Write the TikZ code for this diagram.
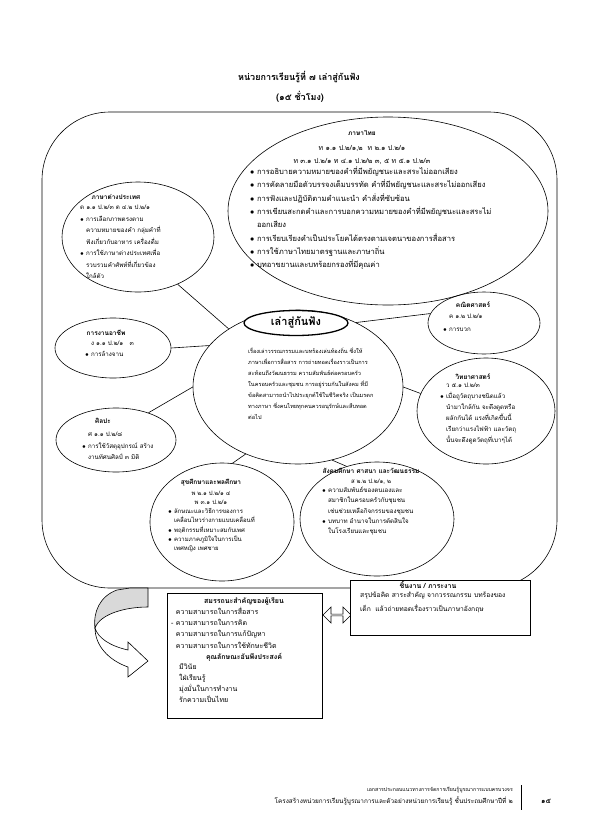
\documentclass[tikz,border=0pt]{standalone}
\usepackage{fontspec}
\setmainfont[Script=Thai]{Loma}
\usetikzlibrary{shapes.geometric,shapes.arrows}
\tikzset{
  ell/.style={draw, ellipse, inner sep=0pt, line width=0.6pt},
  conn/.style={draw, line width=0.6pt},
  hd/.style={font=\fontsize{6.5}{8}\selectfont\bfseries, inner sep=0pt},
  tx/.style={font=\fontsize{6.2}{11.5}\selectfont, inner sep=0pt, align=left, anchor=north west},
  txc/.style={font=\fontsize{6.2}{11}\selectfont, inner sep=0pt, align=center},
  boxst/.style={draw, line width=0.6pt, inner sep=0pt},
}
\newcommand{\bl}{$\bullet$\ }
\newcommand{\ph}{\phantom{$\bullet$\ }}
\begin{document}
\begin{tikzpicture}[x=1pt,y=-1pt]
\useasboundingbox[fill=white] (0,0) rectangle (595,836);
% title
\node[font=\fontsize{9}{11}\selectfont\bfseries] (title) at (299,77) {หน่วยการเรียนรู้ที่ ๗ เล่าสู่กันฟัง};
\node[font=\fontsize{9}{11}\selectfont\bfseries] (hours) at (300,97) {(๑๕ ชั่วโมง)};
% frame
\draw[line width=0.6pt, rounded corners=68pt] (42,112) rectangle (557,588);
% ellipses
\node[ell, minimum width=320, minimum height=188] (thai) at (388,211) {};
\node[ell, minimum width=152, minimum height=110] (foreign) at (138,237) {};
\node[ell, minimum width=116, minimum height=60] (career) at (113,348) {};
\node[ell, minimum width=120, minimum height=64] (art) at (116,440) {};
\node[ell, minimum width=112, minimum height=62] (math) at (484,323) {};
\node[ell, minimum width=138, minimum height=106] (sci) at (486,411) {};
\node[ell, minimum width=144, minimum height=118] (health) at (222,522) {};
\node[ell, minimum width=154, minimum height=114] (social) at (377,519) {};
\node[ell, minimum width=210, minimum height=154] (center) at (298,387) {};
\node[ell, fill=white, line width=1.3pt, minimum width=104, minimum height=25] (hub) at (296,323) {};
\node[font=\fontsize{11}{13}\selectfont\bfseries, inner sep=0pt] (hubtxt) at (296,322) {เล่าสู่กันฟัง};
% connectors
\draw[conn] (foreign.-50) -- (center.140);
\draw[conn] (career.east) -- (center.155);
\draw[conn] (art.40) -- (center.180);
\draw[conn] (center.48) -- (math.170);
\draw[conn] (center.east) -- (sci.165);
\draw[conn] (health.80) -- (center.232);
\draw[conn] (social.120) -- (center.295);
% Thai
\node[hd] (thaih) at (362,133) {ภาษาไทย};
\node[txc, font=\fontsize{7}{13}\selectfont] (thaic) at (362,155) {ท ๑.๑ ป.๒/๑,๒ \ ท ๒.๑ ป.๒/๑\\ท ๓.๑ ป.๒/๑ ท ๔.๑ ป.๒/๒ ๓, ๕ ท ๕.๑ ป.๒/๓};
\node[tx, font=\fontsize{7.6}{13.3}\selectfont] (thaib) at (250,166.5) {\bl การอธิบายความหมายของคำที่มีพยัญชนะและสระไม่ออกเสียง\\
\bl การคัดลายมือตัวบรรจงเต็มบรรทัด คำที่มีพยัญชนะและสระไม่ออกเสียง\\
\bl การฟังและปฏิบัติตามคำแนะนำ คำสั่งที่ซับซ้อน\\
\bl การเขียนสะกดคำและการบอกความหมายของคำที่มีพยัญชนะและสระไม่\\
\ph ออกเสียง\\
\bl การเรียบเรียงคำเป็นประโยคได้ตรงตามเจตนาของการสื่อสาร\\
\bl การใช้ภาษาไทยมาตรฐานและภาษาถิ่น\\
\bl บทอาขยานและบทร้อยกรองที่มีคุณค่า};
% foreign
\node[hd] (forh) at (116,197) {ภาษาต่างประเทศ};
\node[tx] (forb) at (80,205) {ต ๑.๑ ป.๒/๓ ต ๔.๒ ป.๒/๑\\
\bl การเลือกภาพตรงตาม\\
\ph ความหมายของคำ กลุ่มคำที่\\
\ph ฟังเกี่ยวกับอาหาร เครื่องดื่ม\\
\bl การใช้ภาษาต่างประเทศเพื่อ\\
\ph รวบรวมคำศัพท์ที่เกี่ยวข้อง\\
\ph ใกล้ตัว};
% career
\node[hd] (carh) at (106,333) {การงานอาชีพ};
\node[tx, font=\fontsize{6.2}{11}\selectfont] (carb) at (85,341) {\ph ง ๑.๑ ป.๒/๑ \ \ ๓\\ \bl การล้างจาน};
% art
\node[hd] (arth) at (103,421) {ศิลปะ};
\node[tx] (artb) at (82,432) {\ph ศ ๑.๑ ป.๒/๘\\ \bl การใช้วัสดุอุปกรณ์ สร้าง\\ \ph งานทัศนศิลป์ ๓ มิติ};
% math
\node[hd] (mathh) at (473,305) {คณิตศาสตร์};
\node[tx, font=\fontsize{6.2}{13}\selectfont] (mathb) at (443,314) {\ph ค ๑.๒ ป.๒/๑\\ \bl การบวก};
% science
\node[hd] (scih) at (473,377) {วิทยาศาสตร์};
\node[tx, font=\fontsize{6.2}{11}\selectfont] (scib) at (440,383) {\ph ว ๕.๑ ป.๒/๓\\
\bl เมื่อถูวัตถุบางชนิดแล้ว\\
\ph นำมาใกล้กัน จะดึงดูดหรือ\\
\ph ผลักกันได้ แรงที่เกิดขึ้นนี้\\
\ph เรียกว่าแรงไฟฟ้า และวัตถุ\\
\ph นั้นจะดึงดูดวัตถุที่เบาๆได้};
% health
\node[hd] (healh) at (211,483) {สุขศึกษาและพลศึกษา};
\node[txc, font=\fontsize{6}{9.3}\selectfont] (healc) at (211,498) {พ ๒.๑ ป.๒/๑ ๔\\พ ๓.๑ ป.๒/๑};
\node[tx, font=\fontsize{6}{9.4}\selectfont] (healb) at (168,508) {\bl ลักษณะและวิธีการของการ\\
\ph เคลื่อนไหวร่างกายแบบเคลื่อนที่\\
\bl พฤติกรรมที่เหมาะสมกับเพศ\\
\bl ความภาคภูมิใจในการเป็น\\
\ph เพศหญิง เพศชาย};
% social
\node[hd] (soch) at (371,471) {สังคมศึกษา ศาสนา และวัฒนธรรม};
\node[txc, font=\fontsize{6}{10}\selectfont] (socc) at (371,482) {ส ๒.๒ ป.๒/๑, ๒};
\node[tx, font=\fontsize{6.2}{10.3}\selectfont] (socb) at (322,487) {\bl ความสัมพันธ์ของตนเองและ\\
\ph สมาชิกในครอบครัวกับชุมชน\\
\ph เช่นช่วยเหลือกิจกรรมของชุมชน\\
\bl บทบาท อำนาจในการตัดสินใจ\\
\ph ในโรงเรียนและชุมชน};
% center paragraph
\node[tx, font=\fontsize{5.6}{11}\selectfont] (cent) at (248,348) {เรื่องเล่าวรรณกรรมและบทร้องเล่นท้องถิ่น ซึ่งให้\\
ภาษาเพื่อการสื่อสาร การถ่ายทอดเรื่องราวเป็นการ\\
สะท้อนถึงวัฒนธรรม ความสัมพันธ์ต่อครอบครัว\\
ในครอบครัวและชุมชน การอยู่ร่วมกันในสังคม ที่มี\\
ข้อคิดสามารถนำไปประยุกต์ใช้ในชีวิตจริง เป็นมรดก\\
ทางภาษา ซึ่งคนไทยทุกคนควรอนุรักษ์และสืบทอด\\
ต่อไป};
% curved arrow: grey part
\draw[line width=0.6pt, fill=gray!30] (148,588) -- (148,607)
  .. controls (125,607) and (100,614) .. (95,628)
  .. controls (93,612) and (100,596) .. (117,590) -- (130,588) -- cycle;
% curved arrow: white part with head
\draw[line width=0.6pt, fill=white] (95,628)
  .. controls (95,645) and (108,660) .. (128,667)
  -- (128,677) -- (148,661) -- (128,642) -- (128,650)
  .. controls (110,646) and (98,638) .. (95,628) -- cycle;
% competency box
\node[boxst, minimum width=155, minimum height=125, anchor=north west] (comp) at (167,593) {};
\node[hd, font=\fontsize{7}{8}\selectfont\bfseries] (comph) at (244,601) {สมรรถนะสำคัญของผู้เรียน};
\node[tx, font=\fontsize{7}{11.2}\selectfont] (compb) at (171,607) {\ \ ความสามารถในการสื่อสาร\\
- ความสามารถในการคิด\\
\ \ ความสามารถในการแก้ปัญหา\\
\ \ ความสามารถในการใช้ทักษะชีวิต};
\node[hd, font=\fontsize{7}{8}\selectfont\bfseries] (qualh) at (244,657) {คุณลักษณะอันพึงประสงค์};
\node[tx, font=\fontsize{7}{11.2}\selectfont] (qualb) at (179,663) {มีวินัย\\ใฝ่เรียนรู้\\มุ่งมั่นในการทำงาน\\รักความเป็นไทย};
% double arrow
\node[draw, line width=0.6pt, double arrow, fill=white, minimum width=16, minimum height=28, double arrow head extend=2.5pt, inner sep=0pt] (darr) at (337,615) {};
% task box
\node[boxst, fill=white, minimum width=180, minimum height=55, anchor=north west] (task) at (350,580) {};
\node[hd, font=\fontsize{7}{8}\selectfont\bfseries] (taskh) at (428,585) {ชิ้นงาน / ภาระงาน};
\node[tx, font=\fontsize{6.7}{13.5}\selectfont] (taskb) at (360,592) {สรุปข้อคิด สาระสำคัญ จากวรรณกรรม บทร้องของ\\เด็ก \ แล้วถ่ายทอดเรื่องราวเป็นภาษาอังกฤษ};
% footer
\node[tx, anchor=north east, align=right, font=\fontsize{5.2}{9}\selectfont] (foot1) at (513,787) {เอกสารประกอบแนวทางการจัดการเรียนรู้บูรณาการแบบครบวงจร};
\node[tx, anchor=north east, align=right, font=\fontsize{6.4}{9}\selectfont] (foot2) at (513,797) {โครงสร้างหน่วยการเรียนรู้บูรณาการและตัวอย่างหน่วยการเรียนรู้ ชั้นประถมศึกษาปีที่ ๒};
\draw[line width=1pt] (521,785) -- (521,810);
\node[font=\fontsize{7}{9}\selectfont\bfseries] (page) at (546,801) {๑๕};
\end{tikzpicture}
\end{document}
